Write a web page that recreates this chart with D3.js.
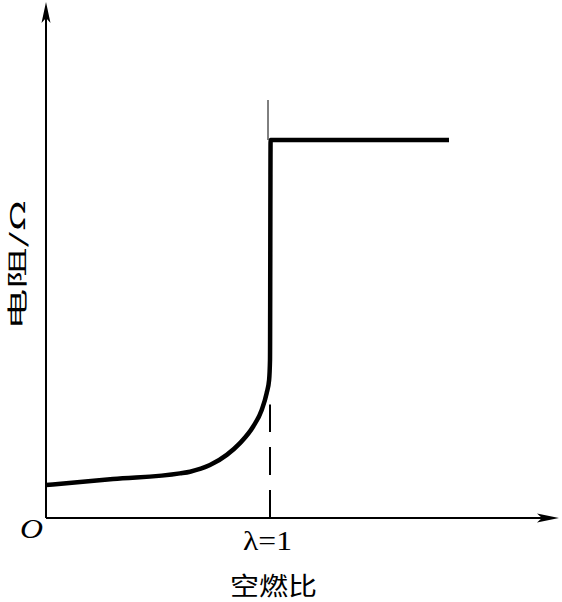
<!DOCTYPE html>
<html>
<head>
<meta charset="utf-8">
<script src="https://cdn.jsdelivr.net/npm/d3@7"></script>
<style>
  body { margin: 0; background: #fff; }
  svg { display: block; }
</style>
</head>
<body>
<svg width="562" height="602"></svg>
<script>
// lambda (excess air ratio) vs sensor resistance, arbitrary units
const lambda = [0, 0.299, 0.598, 0.643, 0.732, 0.807, 0.866, 0.925, 0.963, 0.985, 0.996, 1.0, 1.0027, 1.799];
const resistance = [8.7, 10.3, 11.8, 12.25, 14.0, 16.7, 19.8, 24.2, 28.6, 33.0, 36.5, 41.8, 100, 100];
const xLabel = "空燃比";
const yLabel = "电阻/Ω";
const tickLabel = "λ=1";

const svg = d3.select("svg");
const ox = 46, oy = 518;

const x = d3.scaleLinear().domain([0, 1]).range([ox, 270]);
const y = d3.scaleLinear().domain([0, 100]).range([oy, 140]);

const data = lambda.map((l, i) => ({ l, r: resistance[i] }));

// axes with arrow heads
svg.append("line").attr("x1", ox).attr("y1", oy).attr("x2", ox).attr("y2", 8)
  .attr("stroke", "#000").attr("stroke-width", 2);
svg.append("line").attr("x1", ox).attr("y1", oy).attr("x2", 552).attr("y2", oy)
  .attr("stroke", "#000").attr("stroke-width", 2);

svg.append("path")
  .attr("d", `M${ox},2 L${ox + 4.5},23 L${ox},18 L${ox - 4.5},23 Z`)
  .attr("fill", "#000");
svg.append("path")
  .attr("d", `M559,${oy} L537,${oy - 4.5} L542,${oy} L537,${oy + 4.5} Z`)
  .attr("fill", "#000");

// lambda = 1 marker: thin line above, dashed line below
svg.append("line").attr("x1", x(1) - 2).attr("x2", x(1) - 2)
  .attr("y1", 100).attr("y2", y(100))
  .attr("stroke", "#000").attr("stroke-width", 1);
svg.append("line").attr("x1", x(1)).attr("x2", x(1))
  .attr("y1", oy).attr("y2", y(30))
  .attr("stroke", "#000").attr("stroke-width", 2)
  .attr("stroke-dasharray", "28,15");

// curve
const line = d3.line()
  .x(d => x(d.l))
  .y(d => y(d.r))
  .curve(d3.curveMonotoneX);

svg.append("path")
  .datum(data)
  .attr("d", line)
  .attr("fill", "none")
  .attr("stroke", "#000")
  .attr("stroke-width", 4.5)
  .attr("stroke-linejoin", "miter");

// labels
svg.append("text")
  .attr("x", 20).attr("y", 538)
  .attr("font-family", "Liberation Serif, DejaVu Serif, serif")
  .attr("font-style", "italic")
  .attr("font-size", 28)
  .attr("textLength", 23)
  .attr("lengthAdjust", "spacingAndGlyphs")
  .text("O");

svg.append("text")
  .attr("x", 243).attr("y", 550)
  .attr("font-family", "Liberation Serif, DejaVu Serif, serif")
  .attr("font-size", 27)
  .attr("textLength", 49)
  .attr("lengthAdjust", "spacingAndGlyphs")
  .text(tickLabel);

svg.append("text")
  .attr("x", 230).attr("y", 595)
  .attr("font-family", "Noto Sans CJK SC, sans-serif")
  .attr("font-size", 25)
  .attr("textLength", 87)
  .attr("lengthAdjust", "spacingAndGlyphs")
  .text(xLabel);

svg.append("text")
  .attr("transform", "translate(25,330) rotate(-90)")
  .attr("font-family", "Noto Sans CJK SC, sans-serif")
  .attr("font-size", 20)
  .attr("textLength", 130)
  .attr("lengthAdjust", "spacingAndGlyphs")
  .text(yLabel);
</script>
</body>
</html>
